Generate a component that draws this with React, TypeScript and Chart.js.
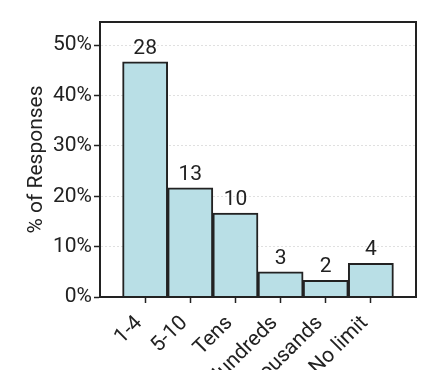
import React, { useEffect, useRef } from "react";
import { Chart, registerables } from "chart.js";

Chart.register(...registerables);

const categories = ["1-4", "5-10", "Tens", "Hundreds", "Thousands", "No limit"];
const counts = [28, 13, 10, 3, 2, 4];
const percents = [46.67, 21.67, 16.67, 5.0, 3.33, 6.67];
const yTicks = [0, 10, 20, 30, 40, 50];

const FONT = "Roboto";
const INK = "#222222";

const frame = {
  id: "frame",
  afterDatasetsDraw(chart: any) {
    const { ctx, chartArea } = chart;
    ctx.save();
    const meta = chart.getDatasetMeta(0);
    ctx.fillStyle = INK;
    ctx.font = `21px ${FONT}`;
    ctx.textAlign = "center";
    ctx.textBaseline = "bottom";
    meta.data.forEach((el: any, i: number) => {
      ctx.fillText(String(counts[i]), el.x, el.y - 3);
    });
    ctx.strokeStyle = INK;
    ctx.lineWidth = 2;
    ctx.strokeRect(chartArea.left, chartArea.top, chartArea.right - chartArea.left, chartArea.bottom - chartArea.top);
    ctx.restore();
  },
};

export default function App() {
  const ref = useRef<HTMLCanvasElement>(null);
  useEffect(() => {
    const chart = new Chart(ref.current!, {
      type: "bar",
      data: {
        datasets: [
          {
            data: percents.map((v, i) => ({ x: i, y: v })),
            backgroundColor: "#b9dfe6",
            borderColor: INK,
            borderWidth: 2,
            barPercentage: 1,
            categoryPercentage: 1,
          },
        ],
      },
      options: {
        responsive: false,
        animation: false,
        layout: { padding: { left: 0, top: 22, right: 30, bottom: 0 } },
        plugins: { legend: { display: false }, tooltip: { enabled: false } },
        scales: {
          x: {
            type: "linear",
            min: -1,
            max: 6,
            offset: false,
            afterBuildTicks: (s: any) => {
              s.ticks = categories.map((_, i) => ({ value: i }));
            },
            afterFit: (s: any) => {
              s.height = 73;
            },
            grid: { display: true, offset: false, drawOnChartArea: false, tickLength: 6, tickColor: INK, tickWidth: 1.5 },
            border: { display: true, color: INK, width: 2 },
            ticks: {
              autoSkip: false,
              minRotation: 45,
              maxRotation: 45,
              padding: 8,
              labelOffset: -6,
              color: INK,
              font: { family: FONT, size: 21 },
              callback: (v: any) => categories[v] ?? "",
            },
          },
          y: {
            min: 0,
            max: 54.6,
            afterBuildTicks: (s: any) => {
              s.ticks = yTicks.map((v) => ({ value: v }));
            },
            afterFit: (s: any) => {
              s.width = 100;
            },
            grid: {
              color: "#e0e0e0",
              lineWidth: 1,
              tickLength: 6,
              tickColor: INK,
              tickWidth: 1.5,
              tickBorderDash: [1, 0],
            },
            border: { display: true, color: INK, width: 2, dash: [2, 2] },
            ticks: {
              padding: 2,
              color: INK,
              font: { family: FONT, size: 21 },
              callback: (v: any) => v + "%",
            },
            title: {
              display: true,
              text: "% of Responses",
              color: INK,
              font: { family: FONT, size: 21 },
              padding: { top: 24, bottom: 0 },
            },
          },
        },
      },
      plugins: [frame],
    } as any);
    return () => chart.destroy();
  }, []);
  return (
    <div style={{ position: "fixed", left: 0, top: 0, width: 446, height: 370, overflow: "hidden", background: "#fff" }}>
      <canvas ref={ref} width={446} height={370} style={{ display: "block", width: 446, height: 370 }} />
    </div>
  );
}
